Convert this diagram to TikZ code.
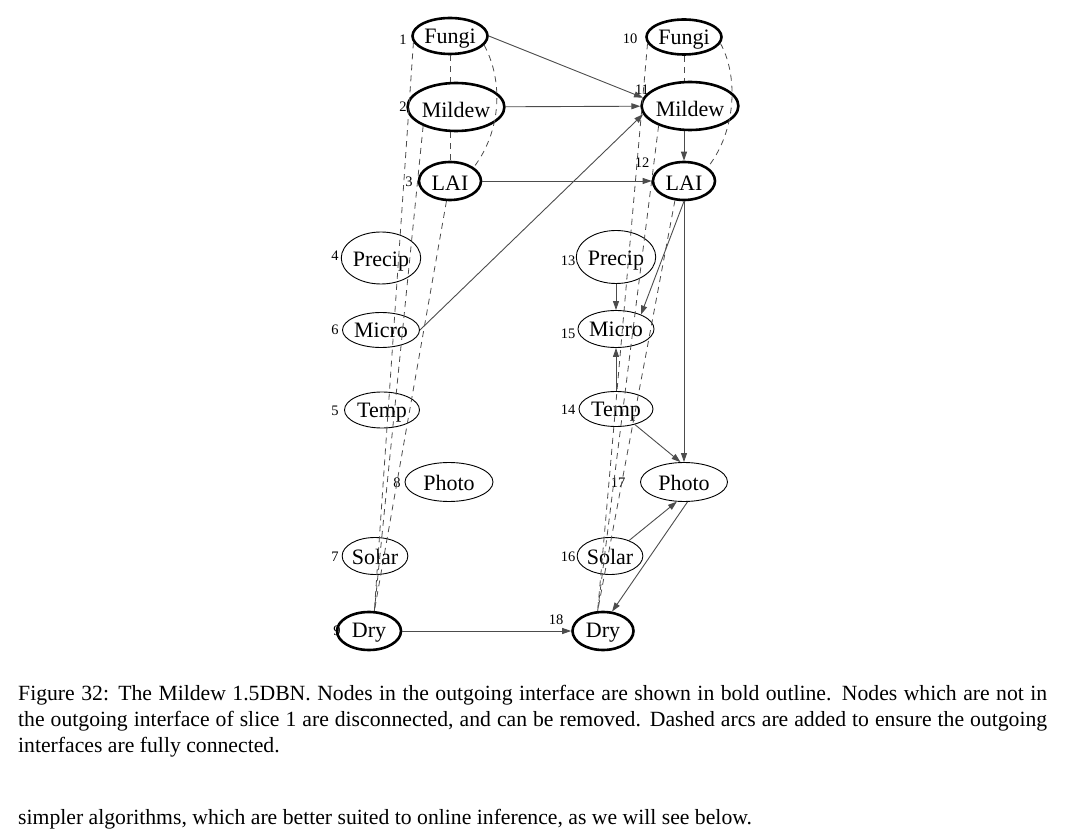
\documentclass[tikz,border=0pt]{standalone}
\usepackage{fontspec}
\setmainfont{Liberation Serif}
\usetikzlibrary{shapes.geometric,arrows.meta}
\begin{document}
\begin{tikzpicture}[>={Triangle[length=9pt,width=6pt]}, x=1pt, y=-1pt, line join=round,
        var/.style={ellipse, draw, line width=0.9pt, inner sep=0pt, text height=16pt, text depth=0pt, font=\fontsize{22}{22}\selectfont},
        iface/.style={var, line width=2.6pt},
        num/.style={inner sep=0pt, font=\fontsize{14.5}{14.5}\selectfont},
        arc/.style={->, draw=black!70, line width=0.9pt},
        added/.style={draw=black!70, line width=0.8pt, dash pattern=on 6pt off 5pt},
        capline/.style={anchor=base west, inner sep=0pt, font=\fontsize{21.7}{26}\selectfont}]
        \useasboundingbox (0,0) rectangle (1080,834);
        % slice 1
        \node[iface, minimum width=75pt, minimum height=36pt] (f1) at (450,36) {Fungi};
        \node[iface, minimum width=76pt, minimum height=48pt, text height=22pt] (m2) at (456,107) {Mildew};
        \node[iface, minimum width=62pt, minimum height=38pt, text height=20pt] (l3) at (450,181) {LAI};
        \node[var, minimum width=76pt, minimum height=52pt, text height=17pt] (p4) at (381,258) {Precip};
        \node[var, minimum width=77pt, minimum height=35pt] (mi6) at (381,330) {Micro};
        \node[var, minimum width=75pt, minimum height=36pt] (t5) at (382,410) {Temp};
        \node[var, minimum width=88pt, minimum height=39pt] (ph8) at (449,482) {Photo};
        \node[var, minimum width=63pt, minimum height=37pt] (s7) at (375,556) {Solar};
        \node[iface, minimum width=64pt, minimum height=38pt, text height=13pt] (d9) at (369,631) {Dry};
        % slice 2
        \node[iface, minimum width=75pt, minimum height=35pt] (f10) at (684,37) {Fungi};
        \node[iface, minimum width=74pt, minimum height=48pt, text height=22pt] (m11) at (690,106) {Mildew};
        \node[iface, minimum width=62pt, minimum height=38pt, text height=20pt] (l12) at (684,181) {LAI};
        \node[var, minimum width=74pt, minimum height=53pt, text height=17pt] (p13) at (616,257) {Precip};
        \node[var, minimum width=74pt, minimum height=37pt] (mi15) at (616,329) {Micro};
        \node[var, minimum width=74pt, minimum height=35pt] (t14) at (616,409) {Temp};
        \node[var, minimum width=87pt, minimum height=39pt] (ph17) at (684,482) {Photo};
        \node[var, minimum width=61pt, minimum height=37pt] (s16) at (610,556) {Solar};
        \node[iface, minimum width=61pt, minimum height=38pt, text height=13pt] (d18) at (603,631) {Dry};
        % numbers
        \node[num] (n1) at (403,40) {1};
        \node[num] (n2) at (403,107) {2};
        \node[num] (n3) at (409,182) {3};
        \node[num] (n4) at (335,256) {4};
        \node[num] (n6) at (335,330) {6};
        \node[num] (n5) at (335,411) {5};
        \node[num] (n8) at (397,483) {8};
        \node[num] (n7) at (335,557) {7};
        \node[num] (n9) at (337,631) {9};
        \node[num] (n10) at (630,39) {10};
        \node[num] (n11) at (642,90) {11};
        \node[num] (n12) at (642,163) {12};
        \node[num] (n13) at (568,261) {13};
        \node[num] (n15) at (568,334) {15};
        \node[num] (n14) at (568,410) {14};
        \node[num] (n17) at (618,483) {17};
        \node[num] (n16) at (568,557) {16};
        \node[num] (n18) at (556,620) {18};
        % solid arcs
        \draw[arc] (f1.east) -- (m11.170);
        \draw[arc] (m2) -- (m11);
        \draw[arc] (l3) -- (l12);
        \draw[arc] (mi6.east) -- (m11.190);
        \draw[arc] (d9) -- (d18);
        \draw[arc] (l12.north |- m11.south) -- (l12.north);
        \draw[arc] (l12.south) -- (mi15.30);
        \draw[arc] (l12.south) -- (ph17.north);
        \draw[arc] (p13) -- (mi15);
        \draw[arc] (t14) -- (mi15);
        \draw[arc] (t14) -- (ph17.100);
        \draw[arc] (s16) -- (ph17.250);
        \draw[arc] (ph17.280) -- (d18.65);
        % dashed arcs, slice 1
        \draw[added] (f1.south) -- (f1.south |- m2.north);
        \draw[added] (l3.north |- m2.south) -- (l3.north);
        \draw[added] (f1.-15) .. controls (503,80) and (502,130) .. (l3.30);
        \draw[added] (f1.190) -- (d9.75);
        \draw[added] (m2.210) -- (d9.75);
        \draw[added] (l3.260) -- (d9.75);
        % dashed arcs, slice 2
        \draw[added] (f10.south) -- (f10.south |- m11.north);
        \draw[added] (f10.-10) .. controls (738,75) and (737,130) .. (l12.30);
        \draw[added] (f10.190) -- (d18.105);
        \draw[added] (m11.212) -- (d18.105);
        \draw[added] (l12.245) -- (d18.105);
        % caption
        \node[capline] (cap1) at (18,700) {\makebox[1029pt][s]{Figure 32: The Mildew 1.5DBN. Nodes in the outgoing interface are shown in bold outline. Nodes which are not in}};
        \node[capline] (cap2) at (18,726) {\makebox[1029pt][s]{the outgoing interface of slice 1 are disconnected, and can be removed. Dashed arcs are added to ensure the outgoing}};
        \node[capline] (cap3) at (18,752) {interfaces are fully connected.};
        \node[capline] (body) at (18,824) {simpler algorithms, which are better suited to online inference, as we will see below.};
\end{tikzpicture}
\end{document}
